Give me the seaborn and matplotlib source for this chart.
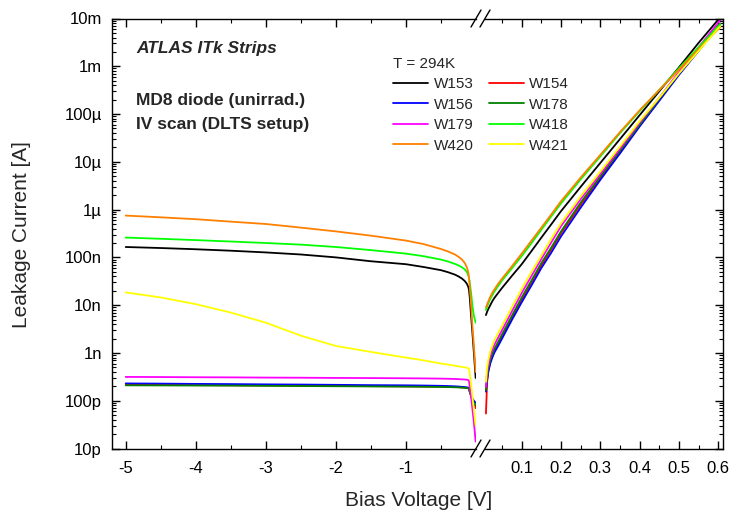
import numpy as np
import pandas as pd
import matplotlib
matplotlib.use("Agg")
import matplotlib.pyplot as plt
import seaborn as sns
from matplotlib.ticker import FixedLocator, FixedFormatter, LogLocator, NullFormatter
from matplotlib.lines import Line2D

# ---------------- data ----------------
wafers = ["W153", "W154", "W156", "W178", "W179", "W418", "W420", "W421"]
colors = {
    "W153": "#000000", "W154": "#FF0000", "W156": "#0000FF", "W178": "#008000",
    "W179": "#FF00FF", "W418": "#00FF00", "W420": "#FF8000", "W421": "#FFFF00",
}

# reverse bias (left panel)
v_rev = [-5.0, -4.5, -4.0, -3.5, -3.0, -2.5, -2.0, -1.5, -1.0, -0.75, -0.5, -0.4, -0.3, -0.25,
         -0.2, -0.16, -0.13, -0.11, -0.1, -0.09, -0.07, -0.05, -0.03, -0.005]
i_rev_W153 = [1.65e-7, 1.57e-7, 1.48e-7, 1.38e-7, 1.27e-7, 1.15e-7, 1.0e-7, 8.3e-8, 7.2e-8, 6.3e-8,
              5.4e-8, 4.9e-8, 4.35e-8, 4.0e-8, 3.6e-8, 3.2e-8, 2.8e-8, 2.4e-8, 2.1e-8, 1.5e-8,
              6.0e-9, 2.5e-9, 1.0e-9, 3.0e-10]
i_rev_W154 = [2.15e-10, 2.14e-10, 2.12e-10, 2.1e-10, 2.08e-10, 2.06e-10, 2.04e-10, 2.02e-10, 2.0e-10, 1.98e-10,
              1.97e-10, 1.95e-10, 1.94e-10, 1.92e-10, 1.9e-10, 1.88e-10, 1.86e-10, 1.83e-10, 1.8e-10, 1.55e-10,
              1.25e-10, 1.05e-10, 9.0e-11, 7.0e-11]
i_rev_W156 = [2.3e-10, 2.28e-10, 2.25e-10, 2.23e-10, 2.2e-10, 2.18e-10, 2.15e-10, 2.12e-10, 2.1e-10, 2.08e-10,
              2.05e-10, 2.03e-10, 2.0e-10, 1.98e-10, 1.95e-10, 1.93e-10, 1.9e-10, 1.88e-10, 1.85e-10, 1.6e-10,
              1.3e-10, 1.1e-10, 1.0e-10, 9.0e-11]
i_rev_W178 = [2.1e-10, 2.09e-10, 2.08e-10, 2.07e-10, 2.05e-10, 2.03e-10, 2.01e-10, 1.99e-10, 1.97e-10, 1.96e-10,
              1.94e-10, 1.93e-10, 1.91e-10, 1.9e-10, 1.88e-10, 1.86e-10, 1.84e-10, 1.82e-10, 1.8e-10, 1.55e-10,
              1.25e-10, 1.0e-10, 9.0e-11, 8.0e-11]
i_rev_W179 = [3.15e-10, 3.13e-10, 3.1e-10, 3.08e-10, 3.05e-10, 3.03e-10, 3.0e-10, 2.98e-10, 2.95e-10, 2.93e-10,
              2.9e-10, 2.88e-10, 2.85e-10, 2.83e-10, 2.8e-10, 2.78e-10, 2.75e-10, 2.7e-10, 2.6e-10, 2.0e-10,
              1.2e-10, 6.5e-11, 3.5e-11, 1.4e-11]
i_rev_W418 = [2.6e-7, 2.45e-7, 2.3e-7, 2.15e-7, 2.0e-7, 1.85e-7, 1.65e-7, 1.42e-7, 1.2e-7, 1.06e-7,
              9.0e-8, 8.2e-8, 7.3e-8, 6.8e-8, 6.2e-8, 5.6e-8, 4.9e-8, 4.2e-8, 3.7e-8, 3.0e-8,
              1.8e-8, 9.5e-9, 6.0e-9, 4.3e-9]
i_rev_W420 = [7.5e-7, 6.9e-7, 6.3e-7, 5.6e-7, 5.0e-7, 4.2e-7, 3.5e-7, 2.85e-7, 2.25e-7, 1.9e-7,
              1.5e-7, 1.33e-7, 1.15e-7, 1.03e-7, 9.0e-8, 7.6e-8, 6.2e-8, 4.8e-8, 3.8e-8, 2.6e-8,
              1.0e-8, 3.5e-9, 1.4e-9, 4.0e-10]
i_rev_W421 = [1.85e-8, 1.45e-8, 1.05e-8, 7.0e-9, 4.3e-9, 2.3e-9, 1.4e-9, 1.05e-9, 8.0e-10, 7.0e-10,
              6.0e-10, 5.7e-10, 5.4e-10, 5.25e-10, 5.1e-10, 5.0e-10, 4.9e-10, 4.75e-10, 4.6e-10, 3.8e-10,
              2.2e-10, 1.2e-10, 6.5e-11, 3.0e-11]

# forward bias (right panel)
v_fwd = [0.009, 0.012, 0.015, 0.02, 0.025, 0.03, 0.04, 0.05, 0.075, 0.1, 0.125, 0.15, 0.175, 0.2,
         0.25, 0.3, 0.35, 0.4, 0.45, 0.5, 0.55, 0.6, 0.605]
i_fwd_W153 = [6.2e-9, 7.3e-9, 8.3e-9, 1.0e-8, 1.2e-8, 1.4e-8, 1.8e-8, 2.3e-8, 4.1e-8, 7.2e-8, 1.36e-7, 2.6e-7, 4.9e-7, 9.3e-7,
              3.0e-6, 9.5e-6, 3.0e-5, 9.5e-5, 3.0e-4, 9.5e-4, 3.1e-3, 9.5e-3, 1.0e-2]
i_fwd_W154 = [5.4e-11, 2.5e-10, 4.2e-10, 6.6e-10, 8.5e-10, 1.1e-9, 1.55e-9, 2.2e-9, 5.5e-9, 1.3e-8, 3.0e-8, 6.8e-8, 1.45e-7, 3.2e-7,
              1.26e-6, 4.6e-6, 1.6e-5, 5.8e-5, 2.0e-4, 6.9e-4, 2.2e-3, 7.1e-3, 7.8e-3]
i_fwd_W156 = [1.55e-10, 2.7e-10, 4.0e-10, 6.0e-10, 7.9e-10, 1.0e-9, 1.4e-9, 2.0e-9, 4.9e-9, 1.15e-8, 2.6e-8, 6.0e-8, 1.25e-7, 2.75e-7,
              1.1e-6, 4.2e-6, 1.5e-5, 5.5e-5, 1.9e-4, 6.6e-4, 2.1e-3, 6.8e-3, 7.4e-3]
i_fwd_W178 = [1.66e-10, 3.2e-10, 4.7e-10, 7.2e-10, 9.5e-10, 1.2e-9, 1.7e-9, 2.45e-9, 6.0e-9, 1.45e-8, 3.3e-8, 7.6e-8, 1.6e-7, 3.5e-7,
              1.4e-6, 5.0e-6, 1.74e-5, 6.0e-5, 2.1e-4, 7.1e-4, 2.3e-3, 7.2e-3, 7.9e-3]
i_fwd_W179 = [1.95e-10, 4.0e-10, 5.6e-10, 8.7e-10, 1.15e-9, 1.45e-9, 2.1e-9, 3.0e-9, 7.4e-9, 1.8e-8, 4.1e-8, 9.3e-8, 2.05e-7, 4.5e-7,
              1.66e-6, 5.6e-6, 1.9e-5, 6.6e-5, 2.2e-4, 7.6e-4, 2.5e-3, 8.3e-3, 9.3e-3]
i_fwd_W418 = [7.9e-9, 9.3e-9, 1.1e-8, 1.35e-8, 1.6e-8, 1.9e-8, 2.5e-8, 3.3e-8, 5.9e-8, 1.07e-7, 2.0e-7, 3.8e-7, 7.2e-7, 1.35e-6,
              4.3e-6, 1.3e-5, 4.0e-5, 1.15e-4, 3.2e-4, 9.1e-4, 2.5e-3, 6.9e-3, 7.6e-3]
i_fwd_W420 = [8.9e-9, 1.05e-8, 1.2e-8, 1.5e-8, 1.8e-8, 2.1e-8, 2.8e-8, 3.6e-8, 6.5e-8, 1.2e-7, 2.25e-7, 4.2e-7, 7.9e-7, 1.5e-6,
              4.7e-6, 1.4e-5, 4.2e-5, 1.2e-4, 3.2e-4, 8.5e-4, 2.3e-3, 6.0e-3, 6.6e-3]
i_fwd_W421 = [2.5e-10, 5.0e-10, 7.1e-10, 1.07e-9, 1.4e-9, 1.8e-9, 2.6e-9, 3.7e-9, 9.1e-9, 2.2e-8, 5.0e-8, 1.1e-7, 2.45e-7, 5.2e-7,
              1.9e-6, 6.3e-6, 2.1e-5, 7.1e-5, 2.2e-4, 7.1e-4, 2.1e-3, 6.3e-3, 6.9e-3]

y_exponents = [-11, -10, -9, -8, -7, -6, -5, -4, -3, -2]
y_ticklabels = ["10p", "100p", "1n", "10n", "100n", "1\u00b5", "10\u00b5", "100\u00b5", "1m", "10m"]
x_left_ticks = [-5, -4, -3, -2, -1]
x_left_labels = ["-5", "-4", "-3", "-2", "-1"]
x_right_ticks = [0.1, 0.2, 0.3, 0.4, 0.5, 0.6]
x_right_labels = ["0.1", "0.2", "0.3", "0.4", "0.5", "0.6"]

rev = {"W153": i_rev_W153, "W154": i_rev_W154, "W156": i_rev_W156, "W178": i_rev_W178,
       "W179": i_rev_W179, "W418": i_rev_W418, "W420": i_rev_W420, "W421": i_rev_W421}
fwd = {"W153": i_fwd_W153, "W154": i_fwd_W154, "W156": i_fwd_W156, "W178": i_fwd_W178,
       "W179": i_fwd_W179, "W418": i_fwd_W418, "W420": i_fwd_W420, "W421": i_fwd_W421}

df_rev = pd.concat([pd.DataFrame({"V": v_rev, "I": rev[w], "wafer": w}) for w in wafers], ignore_index=True)
df_fwd = pd.concat([pd.DataFrame({"V": v_fwd, "I": fwd[w], "wafer": w}) for w in wafers], ignore_index=True)

# ---------------- style ----------------
sns.set_theme(style="ticks")
plt.rcParams["font.family"] = ["Liberation Sans", "DejaVu Sans"]
plt.rcParams["axes.unicode_minus"] = False
plt.rcParams["axes.linewidth"] = 1.0

W, H = 731, 513
fig = plt.figure(figsize=(W / 100, H / 100), dpi=100)
fig.patch.set_facecolor("white")

top_px, bot_px = 18.5, 448.5
xl0, xl1 = 111.7, 476.0
xr0, xr1 = 485.0, 723.0
B = 1 - bot_px / H
Hh = (bot_px - top_px) / H
ax1 = fig.add_axes([xl0 / W, B, (xl1 - xl0) / W, Hh])
ax2 = fig.add_axes([xr0 / W, B, (xr1 - xr0) / W, Hh], sharey=ax1)

for ax in (ax1, ax2):
    ax.set_yscale("log")

lw = 1.3
sns.lineplot(data=df_rev, x="V", y="I", hue="wafer", hue_order=wafers, palette=colors,
             estimator=None, sort=False, legend=False, lw=lw, ax=ax1)
sns.lineplot(data=df_fwd, x="V", y="I", hue="wafer", hue_order=wafers, palette=colors,
             estimator=None, sort=False, legend=False, lw=lw, ax=ax2)

ax1.set_ylim(1e-11, 1e-2)
ax1.set_xlim(-5.2, 0.0)
ax2.set_xlim(0.0066, 0.612)

ax1.spines["right"].set_visible(False)
ax2.spines["left"].set_visible(False)
for ax in (ax1, ax2):
    for s in ax.spines.values():
        s.set_color("black")
        s.set_linewidth(1.0)
    ax.set_xlabel("")
    ax.set_ylabel("")
    ax.set_facecolor("white")

# y ticks
ax1.yaxis.set_major_locator(FixedLocator([10.0 ** e for e in y_exponents]))
ax1.yaxis.set_major_formatter(FixedFormatter(y_ticklabels))
ax1.yaxis.set_minor_locator(LogLocator(base=10, subs=np.arange(2, 10), numticks=100))
ax1.yaxis.set_minor_formatter(NullFormatter())

# x ticks
ax1.xaxis.set_major_locator(FixedLocator(x_left_ticks))
ax1.xaxis.set_major_formatter(FixedFormatter(x_left_labels))
ax1.xaxis.set_minor_locator(FixedLocator([-4.5, -3.5, -2.5, -1.5, -0.5]))
ax2.xaxis.set_major_locator(FixedLocator(x_right_ticks))
ax2.xaxis.set_major_formatter(FixedFormatter(x_right_labels))
ax2.xaxis.set_minor_locator(FixedLocator([0.05, 0.15, 0.25, 0.35, 0.45, 0.55]))

tick_fs = 12
ax1.tick_params(axis="both", which="both", direction="in", top=True, bottom=True,
                left=True, right=False, colors="black", labelsize=tick_fs)
ax2.tick_params(axis="both", which="both", direction="in", top=True, bottom=True,
                left=False, right=True, labelleft=False, labelright=False,
                colors="black", labelsize=tick_fs)
for ax in (ax1, ax2):
    ax.tick_params(which="major", length=5.5, width=1.0)
    ax.tick_params(which="minor", length=3.2, width=0.8)
    ax.tick_params(axis="x", which="major", pad=9)
ax1.tick_params(axis="y", which="major", pad=7)

# axis break marks
dx, dy = 5.0 / W, 8.5 / H
for cx in (476.0, 485.0):
    for cy in (top_px, bot_px):
        fx, fy = cx / W, 1 - cy / H
        fig.add_artist(Line2D([fx - dx, fx + dx], [fy - dy, fy + dy], color="black",
                              lw=1.0, transform=fig.transFigure, clip_on=False))

# axis labels
fig.text(419 / W, 1 - 506 / H, "Bias Voltage [V]", ha="center", va="baseline", fontsize=15)
fig.text(22 / W, 1 - 235 / H, "Leakage Current [A]", ha="center", va="center",
         rotation=90, fontsize=15)

# annotations
fig.text(136 / W, 1 - 48 / H, "ATLAS ITk Strips", ha="left", va="center",
         fontsize=12.5, fontweight="bold", fontstyle="italic")
fig.text(136 / W, 1 - 100 / H, "MD8 diode (unirrad.)", ha="left", va="center",
         fontsize=12.5, fontweight="bold")
fig.text(136 / W, 1 - 124 / H, "IV scan (DLTS setup)", ha="left", va="center",
         fontsize=12.5, fontweight="bold")

# legend
leg_order = ["W153", "W156", "W179", "W420", "W154", "W178", "W418", "W421"]
handles = [Line2D([], [], color=colors[w], lw=lw) for w in leg_order]
fig.legend(handles, leg_order, ncol=2, title="T = 294K", loc="upper left",
           bbox_to_anchor=(393 / W, 1 - 57 / H), bbox_transform=fig.transFigure,
           frameon=False, fontsize=11, title_fontsize=11, handlelength=2.3,
           handletextpad=0.35, columnspacing=1.0, labelspacing=0.42,
           borderpad=0, borderaxespad=0, alignment="left")

fig.savefig("out.png", dpi=100, facecolor="white")
